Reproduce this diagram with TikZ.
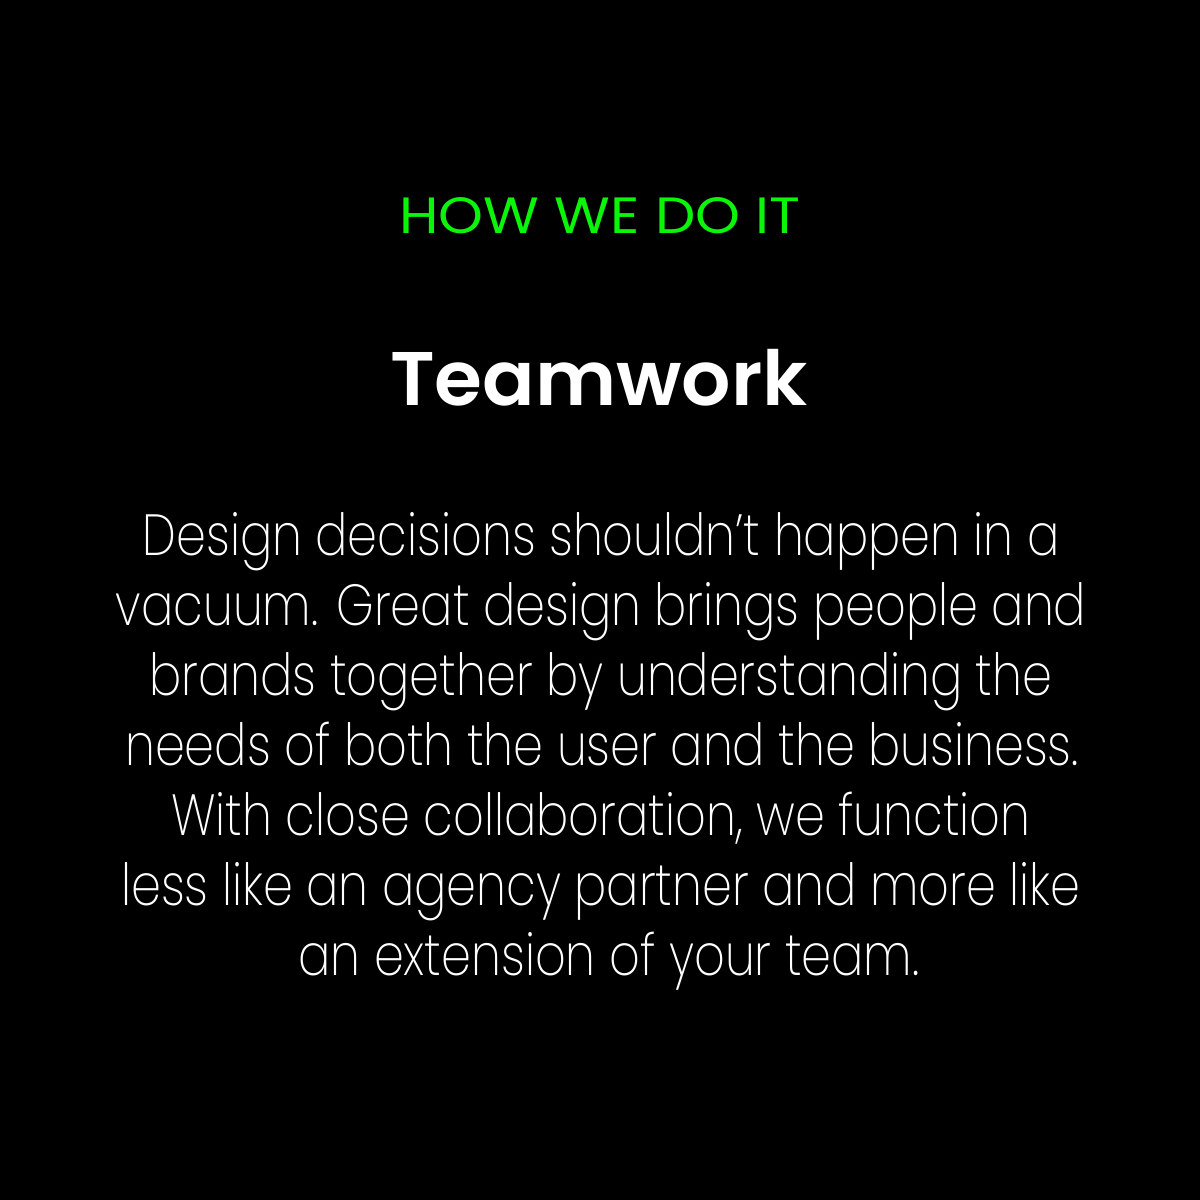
\documentclass[tikz,border=0pt]{standalone}
\usepackage{fontspec}
\setmainfont{Poppins}
\newfontfamily\headfont{Poppins}[FakeStretch=1.12]
\newfontfamily\titlefont{Poppins}[UprightFont=* SemiBold,FakeStretch=1.02]
\newfontfamily\bodyfont{Poppins}[UprightFont=* ExtraLight,FakeStretch=0.825]
\definecolor{hgreen}{RGB}{10,245,10}
\begin{document}
\begin{tikzpicture}[x=0.01cm,y=-0.01cm,
  txt/.style={anchor=base,inner sep=0pt,text=white},
  bodyline/.style={txt,font=\bodyfont\fontsize{16.5}{20}\selectfont}]
\fill[black] (0,0) rectangle (1200,1200);
\useasboundingbox (0,0) rectangle (1200,1200);
\node[txt,text=hgreen,font=\headfont\fontsize{14.5}{17}\selectfont] (head) at (600,233) {HOW WE DO IT};
\node[txt,font=\titlefont\fontsize{21.6}{25}\selectfont] (title) at (599,405) {Teamwork};
\node[bodyline] (l1) at (601,555) {Design decisions shouldn’t happen in a};
\node[bodyline] (l2) at (601,625) {vacuum. Great design brings people and};
\node[bodyline] (l3) at (601,695) {brands together by understanding the};
\node[bodyline] (l4) at (602,765) {needs of both the user and the business.};
\node[bodyline] (l5) at (601,835) {With close collaboration, we function};
\node[bodyline] (l6) at (601,905) {less like an agency partner and more like};
\node[bodyline] (l7) at (609,975) {an extension of your team.};
\end{tikzpicture}
\end{document}
